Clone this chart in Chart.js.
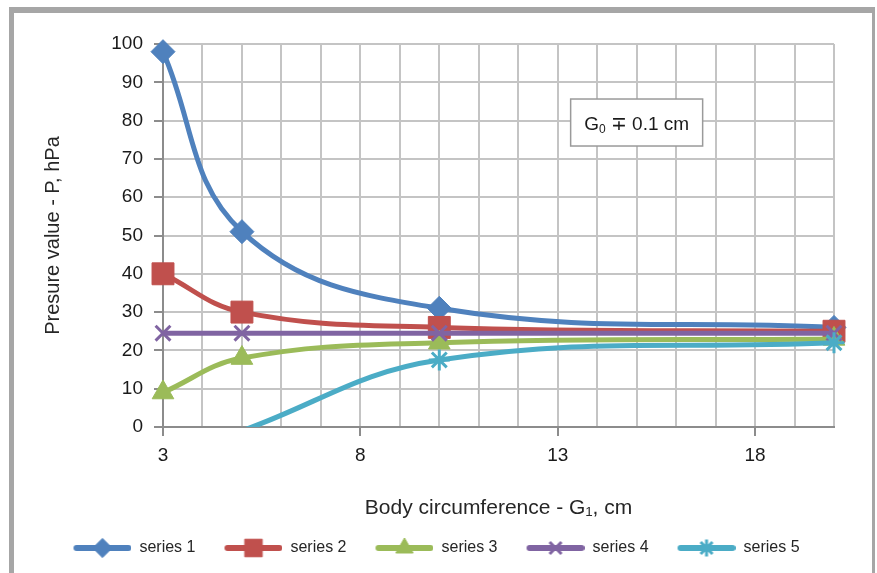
<!DOCTYPE html>
<html>
<head>
<meta charset="utf-8">
<script src="https://cdn.jsdelivr.net/npm/chart.js@4.4.1/dist/chart.umd.min.js"></script>
<style>
  html, body { margin: 0; padding: 0; background: #fff; }
  #wrap { position: relative; width: 877px; height: 573px; }
</style>
</head>
<body>
<div id="wrap"><canvas id="chart" width="877" height="573"></canvas></div>
<script>
// values
var circumference = [3, 5, 10, 20];
var series1 = [98, 51, 31, 26];
var series2 = [40, 30, 26, 25];
var series3 = [9, 18, 22, 23];
var series4 = [24.5, 24.5, 24.5, 24.5];
var series5 = [null, -1, 17.5, 22];
var seriesNames = ["series 1", "series 2", "series 3", "series 4", "series 5"];
var xTickLabels = [3, 8, 13, 18];

var colors = ["#4f81bd", "#c0504d", "#9bbb59", "#8064a2", "#4bacc6"];
var markers = ["rectRot", "rect", "triangle", "crossRot", "star"];
var markerSize = [12, 15.5, 12.5, 10.5, 10.5];
var markerBorder = [1, 1, 1, 3, 3];

var FONT = "'Liberation Sans', 'DejaVu Sans', Arial, sans-serif";
var LEG_MARGIN = 19;

function toPoints(values) {
  var pts = [];
  for (var i = 0; i < circumference.length; i++) {
    if (values[i] !== null) pts.push({ x: circumference[i], y: values[i] });
  }
  return pts;
}

function makeLegendIcon(i) {
  var c = document.createElement("canvas");
  c.width = LEG_MARGIN + 58;
  c.height = 28;
  var g = c.getContext("2d");
  g.strokeStyle = colors[i];
  g.fillStyle = colors[i];
  g.lineWidth = 6;
  g.lineCap = "round";
  g.beginPath();
  g.moveTo(LEG_MARGIN + 3, 14);
  g.lineTo(LEG_MARGIN + 55, 14);
  g.stroke();
  g.lineWidth = markerBorder[i];
  g.lineCap = "butt";
  Chart.helpers.drawPoint(g, {
    pointStyle: markers[i], radius: markerSize[i] * 0.8, rotation: 0, borderWidth: markerBorder[i]
  }, LEG_MARGIN + 29, 14);
  return c;
}

var allSeries = [series1, series2, series3, series4, series5];
var legendIcons = [];
var datasets = [];
for (var i = 0; i < allSeries.length; i++) {
  legendIcons.push(makeLegendIcon(i));
  datasets.push({
    label: seriesNames[i],
    data: toPoints(allSeries[i]),
    borderColor: colors[i],
    backgroundColor: colors[i],
    borderWidth: 5,
    tension: 0.4,
    pointStyle: markers[i],
    pointRadius: function (ctx) {
      if (ctx.raw && ctx.raw.y < 0) return 0;
      return markerSize[ctx.datasetIndex];
    },
    pointHoverRadius: markerSize[i],
    pointBorderWidth: markerBorder[i],
    order: allSeries.length - i,
    clip: { left: 20, top: 20, right: 20, bottom: 0 }
  });
}

// the "G0 -+ 0.1 cm" note, centred at these axis values
var noteAt = { x: 15, y: 79.5 };

var frameAndNote = {
  id: "frameAndNote",
  afterLayout: function (chart) {
    // centre the legend row under the plot like the original
    chart.legend.left += 10;
    chart.legend.right += 10;
  },
  afterDraw: function (chart) {
    var ctx = chart.ctx;
    ctx.save();
    // outer frame
    ctx.fillStyle = "#a6a6a6";
    ctx.fillRect(9, 7, 866, 6);
    ctx.fillRect(9, 7, 5, 566);
    ctx.fillRect(872, 7, 3, 566);

    // note box
    var cx = chart.scales.x.getPixelForValue(noteAt.x);
    var cy = chart.scales.y.getPixelForValue(noteAt.y);
    var big = "19px " + FONT, small = "12px " + FONT;
    ctx.font = big;
    var wG = ctx.measureText("G").width;
    var wRest = ctx.measureText(" \u2213 0.1 cm").width;
    ctx.font = small;
    var wSub = ctx.measureText("0").width;
    var tw = wG + wSub + wRest;
    var bw = 132, bh = 47;
    ctx.fillStyle = "#ffffff";
    ctx.fillRect(cx - bw / 2, cy - bh / 2, bw, bh);
    ctx.strokeStyle = "#9a9a9a";
    ctx.lineWidth = 1.5;
    ctx.strokeRect(cx - bw / 2, cy - bh / 2, bw, bh);
    ctx.fillStyle = "#1a1a1a";
    ctx.textBaseline = "alphabetic";
    ctx.textAlign = "left";
    var tx = cx - tw / 2, ty = cy + 7;
    ctx.font = big;
    ctx.fillText("G", tx, ty);
    ctx.font = small;
    ctx.fillText("0", tx + wG, ty + 3);
    ctx.font = big;
    ctx.fillText(" \u2213 0.1 cm", tx + wG + wSub, ty);
    ctx.restore();
  }
};

new Chart(document.getElementById("chart"), {
  type: "line",
  data: { datasets: datasets },
  options: {
    responsive: false,
    animation: false,
    layout: { padding: { left: 0, right: 43, top: 44, bottom: 7 } },
    scales: {
      x: {
        type: "linear",
        min: 3,
        max: 20,
        afterFit: function (scale) { scale.height = 103; },
        ticks: {
          stepSize: 1,
          autoSkip: false,
          maxRotation: 0,
          padding: 8,
          color: "#1a1a1a",
          font: { family: FONT, size: 19 },
          callback: function (value) {
            return xTickLabels.indexOf(value) >= 0 ? String(value) : "";
          }
        },
        grid: {
          color: "#c4c4c4",
          lineWidth: 2,
          tickLength: 9,
          tickColor: function (ctx) {
            return ctx.tick && xTickLabels.indexOf(ctx.tick.value) >= 0 ? "#8c8c8c" : "rgba(0,0,0,0)";
          },
          tickWidth: 2
        },
        border: { color: "#8c8c8c", width: 2 },
        title: {
          display: true,
          text: "Body circumference - G\u2081, cm",
          color: "#262626",
          font: { family: FONT, size: 21 },
          padding: { top: 0, bottom: 9 }
        }
      },
      y: {
        min: 0,
        max: 100,
        afterFit: function (scale) { scale.width = 163; },
        ticks: {
          stepSize: 10,
          padding: 11,
          color: "#1a1a1a",
          font: { family: FONT, size: 19 }
        },
        grid: {
          color: "#c4c4c4",
          lineWidth: 2,
          tickLength: 9,
          tickColor: "#8c8c8c",
          tickWidth: 2
        },
        border: { color: "#8c8c8c", width: 2 },
        title: {
          display: true,
          text: "Presure value - P, hPa",
          color: "#262626",
          font: { family: FONT, size: 20 },
          padding: { top: 41, bottom: 0 }
        }
      }
    },
    plugins: {
      tooltip: { enabled: false },
      legend: {
        position: "bottom",
        labels: {
          usePointStyle: true,
          pointStyleWidth: LEG_MARGIN + 58,
          padding: 10,
          color: "#262626",
          font: { family: FONT, size: 16 },
          generateLabels: function (chart) {
            var items = Chart.defaults.plugins.legend.labels.generateLabels(chart);
            items.forEach(function (it) { it.pointStyle = legendIcons[it.datasetIndex]; });
            return items;
          },
          sort: function (a, b) { return a.datasetIndex - b.datasetIndex; }
        }
      }
    }
  },
  plugins: [frameAndNote]
});
</script>
</body>
</html>
